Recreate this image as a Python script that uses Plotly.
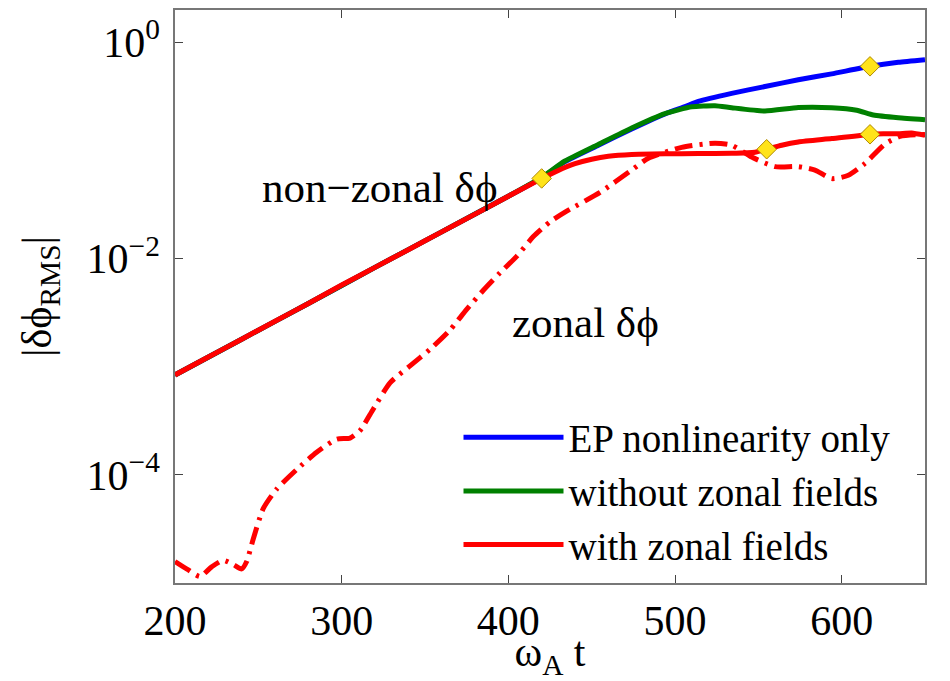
import plotly.graph_objects as go

# ---- data ----
x_red = [200, 220, 240, 260, 280, 300, 320, 340, 360, 380, 400, 420, 430, 440, 450, 460, 474,
         494, 514, 534, 548, 555, 564, 574, 594, 617, 625, 634, 642, 650]
y_red = [8.4e-4, 1.23e-3, 1.80e-3, 2.64e-3, 3.85e-3, 5.7e-3, 8.3e-3, 1.21e-2, 1.77e-2, 2.58e-2,
         3.78e-2, 5.5e-2, 0.0655, 0.0755, 0.083, 0.0885, 0.0920, 0.0933, 0.0938, 0.0944,
         0.0965, 0.1028, 0.112, 0.120, 0.129, 0.141, 0.143, 0.143, 0.145, 0.138]

x_green = [200, 240, 280, 320, 360, 400, 420, 434, 454, 474, 494, 510, 524, 534, 554, 574,
           594, 609, 619, 634, 650]
y_green = [8.4e-4, 1.80e-3, 3.85e-3, 8.3e-3, 1.77e-2, 3.78e-2, 0.0565, 0.0800, 0.114, 0.162,
           0.220, 0.254, 0.260, 0.249, 0.232, 0.250, 0.249, 0.236, 0.213, 0.201, 0.193]

x_blue = [200, 240, 280, 320, 360, 400, 420, 434, 454, 474, 494, 506, 514, 534, 554, 574,
          594, 617, 634, 650]
y_blue = [8.4e-4, 1.80e-3, 3.85e-3, 8.3e-3, 1.77e-2, 3.78e-2, 0.0560, 0.0790, 0.1120, 0.158,
          0.218, 0.255, 0.285, 0.338, 0.391, 0.451, 0.512, 0.601, 0.655, 0.693]

x_zonal = [200, 208, 215, 222, 229, 235, 240, 243, 247, 253, 261, 273, 285, 297, 305, 311,
           319, 329, 341, 353, 365, 375, 385, 395, 405, 415, 425, 435, 455, 474, 484, 504,
           524, 534, 546, 560, 574, 584, 594, 604, 614, 626, 635, 650]
y_zonal = [1.58e-5, 1.32e-5, 1.15e-5, 1.41e-5, 1.62e-5, 1.48e-5, 1.35e-5, 1.58e-5, 2.57e-5,
           4.9e-5, 7.4e-5, 1.12e-4, 1.62e-4, 2.14e-4, 2.19e-4, 2.57e-4, 4.07e-4, 7.1e-4,
           1.02e-3, 1.45e-3, 2.19e-3, 3.39e-3, 5.1e-3, 7.4e-3, 1.05e-2, 1.60e-2, 2.19e-2,
           2.75e-2, 4.1e-2, 6.6e-2, 8.5e-2, 0.107, 0.117, 0.112, 0.087, 0.071, 0.071, 0.066,
           0.055, 0.059, 0.076, 0.115, 0.135, 0.141]

x_marks = [420, 555, 617, 617]
y_marks = [0.0552, 0.1028, 0.1413, 0.601]

x_ticks = [200, 300, 400, 500, 600]
y_ticks = [1, 1e-2, 1e-4]
y_ticktext = ["10<sup>0</sup>", "10<sup>−2</sup>", "10<sup>−4</sup>"]

FONT = "Liberation Serif"

fig = go.Figure()
fig.add_trace(go.Scatter(x=x_blue, y=y_blue, mode="lines", name="EP nonlinearity only",
                         line=dict(color="#0000FF", width=5, shape="spline", smoothing=0.5)))
fig.add_trace(go.Scatter(x=x_green, y=y_green, mode="lines", name="without zonal fields",
                         line=dict(color="#008000", width=5, shape="spline", smoothing=0.5)))
fig.add_trace(go.Scatter(x=x_red, y=y_red, mode="lines", name="with zonal fields",
                         line=dict(color="#FF0000", width=5, shape="spline", smoothing=0.5)))
fig.add_trace(go.Scatter(x=x_zonal, y=y_zonal, mode="lines", showlegend=False,
                         line=dict(color="#FF0000", width=5, dash="18px,7px,3px,7px",
                                   shape="spline", smoothing=0.6)))
fig.add_trace(go.Scatter(x=x_marks, y=y_marks, mode="markers", showlegend=False,
                         marker=dict(symbol="diamond", size=15, color="#FFE31A",
                                     line=dict(color="#B08A00", width=1))))

fig.add_annotation(x=323, y=-1.338, xref="x", yref="y", text="non−zonal δϕ",
                   showarrow=False, font=dict(family=FONT, size=43, color="black"))
fig.add_annotation(x=446, y=-2.59, xref="x", yref="y", text="zonal δϕ",
                   showarrow=False, font=dict(family=FONT, size=43, color="black"))

# the page adds an 8px body margin, so the figure is 8px smaller and margins shifted
fig.update_layout(
    width=942, height=673,
    margin=dict(l=167, r=25, t=2, b=98),
    paper_bgcolor="white", plot_bgcolor="white",
    font=dict(family=FONT, color="black"),
    showlegend=True,
    legend=dict(x=0.378, y=0.31, xanchor="left", yanchor="top",
                bgcolor="rgba(0,0,0,0)", borderwidth=0,
                font=dict(family=FONT, size=39, color="black"),
                itemwidth=100, tracegroupgap=0),
)
fig.update_xaxes(range=[200, 650], tickvals=x_ticks, ticks="inside", ticklen=8,
                 tickcolor="#444", showline=True, linecolor="#777", linewidth=1.5,
                 mirror="ticks", showgrid=False, zeroline=False, automargin=False,
                 tickfont=dict(family=FONT, size=42), ticklabelstandoff=0,
                 title=dict(text="ω<sub>A</sub> t", font=dict(family=FONT, size=42)))
fig.update_yaxes(type="log", range=[-5, 0.3], tickvals=y_ticks, ticktext=y_ticktext,
                 ticks="inside", ticklen=8, tickcolor="#444", showline=True,
                 linecolor="#777", linewidth=1.5, mirror="ticks", showgrid=False,
                 zeroline=False, automargin=False, tickfont=dict(family=FONT, size=42),
                 ticklabelstandoff=5,
                 title=dict(text="|δϕ<sub>RMS</sub>|", font=dict(family=FONT, size=42), standoff=22))

fig.write_html("out.html")
